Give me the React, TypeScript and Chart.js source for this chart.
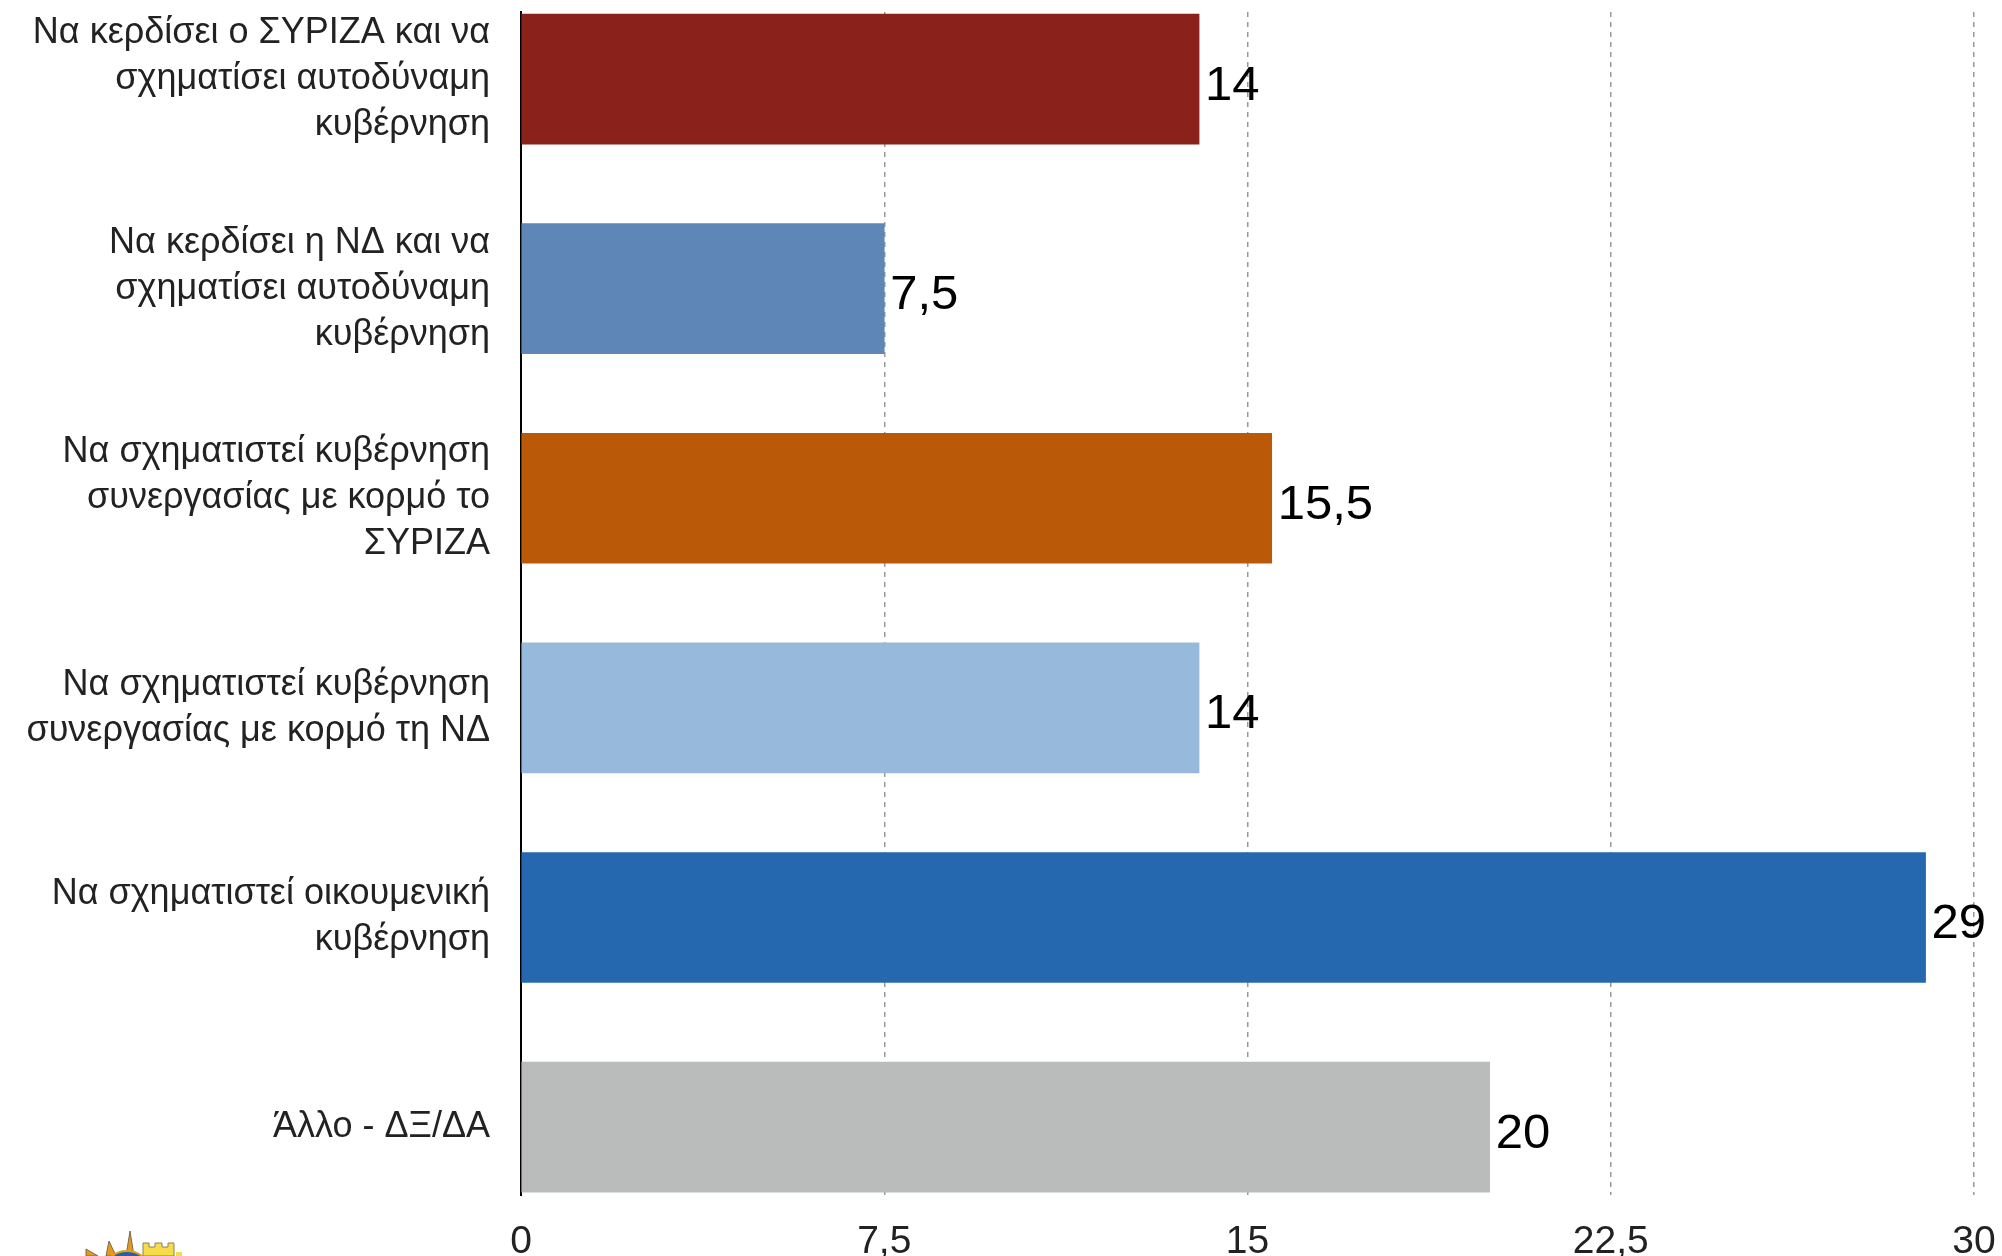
import React, { useEffect, useRef } from "react";
import { Chart, registerables } from "chart.js";

Chart.register(...registerables);

const categories: string[][] = [
  ["Να κερδίσει ο ΣΥΡΙΖΑ και να", "σχηματίσει αυτοδύναμη", "κυβέρνηση"],
  ["Να κερδίσει η ΝΔ και να", "σχηματίσει αυτοδύναμη", "κυβέρνηση"],
  ["Να σχηματιστεί κυβέρνηση", "συνεργασίας με κορμό το", "ΣΥΡΙΖΑ"],
  ["Να σχηματιστεί κυβέρνηση", "συνεργασίας με κορμό τη ΝΔ"],
  ["Να σχηματιστεί οικουμενική", "κυβέρνηση"],
  ["Άλλο - ΔΞ/ΔΑ"],
];
const values: number[] = [14, 7.5, 15.5, 14, 29, 20];
const barColors: string[] = ["#8A221B", "#5E87B8", "#BA5A08", "#97B9DC", "#2568B0", "#B9BCBB"];
const xTicks: number[] = [0, 7.5, 15, 22.5, 30];

const fmt = (v: number) => String(v).replace(".", ",");

const LABEL_FONT = "Liberation Sans";
const VALUE_FONT = "Liberation Sans";

const valueLabels = {
  id: "valueLabels",
  afterDatasetsDraw(chart: any) {
    const ctx = chart.ctx;
    const meta = chart.getDatasetMeta(0);
    ctx.save();
    ctx.font = `400 49px "${VALUE_FONT}"`;
    ctx.fillStyle = "#000";
    ctx.textBaseline = "middle";
    ctx.textAlign = "left";
    meta.data.forEach((el: any, i: number) => {
      ctx.fillText(fmt(values[i]), el.x + 6, el.y + 7);
    });
    ctx.restore();
  },
};

const logo = {
  id: "logo",
  afterDraw(chart: any) {
    const ctx = chart.ctx;
    ctx.save();
    const rays = [
      [130, 1231, 126, 1256, 134, 1256],
      [109, 1241, 106, 1256, 116, 1256],
      [86, 1249, 86, 1256, 98, 1256],
    ];
    rays.forEach((r) => {
      ctx.beginPath();
      ctx.moveTo(r[0], r[1]);
      ctx.lineTo(r[2], r[3]);
      ctx.lineTo(r[4], r[5]);
      ctx.closePath();
      ctx.fillStyle = "#E29A1E";
      ctx.fill();
      ctx.strokeStyle = "#7a6a50";
      ctx.lineWidth = 1;
      ctx.stroke();
    });
    ctx.beginPath();
    ctx.ellipse(127, 1268, 21, 17, 0, Math.PI, 2 * Math.PI);
    ctx.fillStyle = "#2D5F9E";
    ctx.fill();
    ctx.strokeStyle = "#D9A21F";
    ctx.lineWidth = 2;
    ctx.stroke();
    ctx.beginPath();
    ctx.moveTo(143, 1256);
    ctx.lineTo(143, 1243);
    ctx.lineTo(149, 1243);
    ctx.lineTo(149, 1247);
    ctx.lineTo(155, 1247);
    ctx.lineTo(155, 1243);
    ctx.lineTo(162, 1243);
    ctx.lineTo(162, 1247);
    ctx.lineTo(168, 1247);
    ctx.lineTo(168, 1243);
    ctx.lineTo(174, 1243);
    ctx.lineTo(174, 1256);
    ctx.closePath();
    ctx.fillStyle = "#F6DC48";
    ctx.fill();
    ctx.strokeStyle = "#8a8060";
    ctx.lineWidth = 1;
    ctx.stroke();
    ctx.fillStyle = "#F6DC48";
    ctx.fillRect(176, 1252, 6, 4);
    ctx.restore();
  },
};

export default function App() {
  const ref = useRef<HTMLCanvasElement | null>(null);
  useEffect(() => {
    document.body.style.margin = "0";
    if (!ref.current) return;
    const chart = new Chart(ref.current, {
      type: "bar",
      data: {
        datasets: [
          {
            data: values.map((v, i) => ({ x: v, y: i })) as any,
            backgroundColor: barColors,
            borderWidth: 0,
            barThickness: 130,
          },
        ],
      },
      options: {
        indexAxis: "y",
        responsive: false,
        animation: false,
        devicePixelRatio: 1,
        layout: { padding: { top: 12, right: 28, left: 0, bottom: 0 } },
        plugins: {
          legend: { display: false },
          tooltip: { enabled: false },
        },
        scales: {
          x: {
            type: "linear",
            min: 0,
            max: 30,
            offset: false,
            afterBuildTicks: (s: any) => {
              s.ticks = xTicks.map((v) => ({ value: v }));
            },
            afterFit: (s: any) => {
              s.height = 61;
              s.paddingLeft = 0;
              s.paddingRight = 0;
            },
            grid: {
              color: (c: any) => (c.tick && c.tick.value === 0 ? "rgba(0,0,0,0)" : "#999999"),
              lineWidth: 1.5,
              drawTicks: false,
            },
            border: { display: false, dash: [5, 5] },
            ticks: {
              padding: 24,
              color: "#222",
              font: { family: LABEL_FONT, size: 39, weight: "normal" },
              callback: (v: any) => fmt(Number(v)),
              maxRotation: 0,
              autoSkip: false,
            },
          },
          y: {
            type: "linear",
            reverse: true,
            offset: false,
            min: -0.32,
            max: 5.324,
            afterBuildTicks: (s: any) => {
              s.ticks = categories.map((_, i) => ({ value: i }));
            },
            afterFit: (s: any) => {
              s.width = 521;
              s.paddingTop = 0;
              s.paddingBottom = 0;
            },
            grid: { display: false, drawTicks: false },
            border: { display: true, color: "#000", width: 2 },
            ticks: {
              padding: 31,
              color: "#222",
              font: { family: LABEL_FONT, size: 36, weight: "normal", lineHeight: 1.278 },
              callback: (v: any) => categories[Number(v)],
              autoSkip: false,
            },
          },
        },
      } as any,
      plugins: [valueLabels, logo],
    });
    return () => chart.destroy();
  }, []);
  return (
    <div style={{ position: "absolute", left: 0, top: 0, width: 2002, height: 1256, background: "#fff" }}>
      <canvas ref={ref} width={2002} height={1256} style={{ display: "block" }} />
    </div>
  );
}
